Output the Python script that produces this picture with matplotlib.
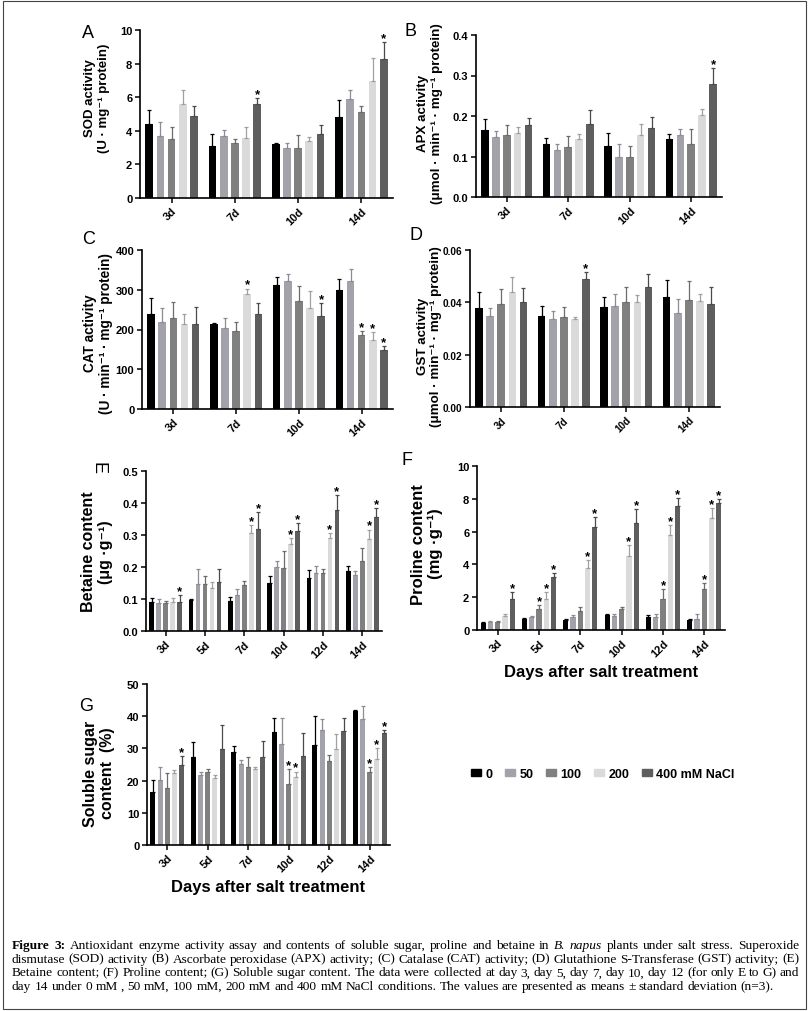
import numpy as np
import matplotlib
matplotlib.use('Agg')
import matplotlib.pyplot as plt
from matplotlib.patches import Patch, Rectangle

plt.rcParams['font.family'] = ['Liberation Sans', 'DejaVu Sans']

# concentrations and bar colours
nacl = ['0', '50', '100', '200', '400 mM NaCl']
colors = ['#000000', '#a2a2aa', '#808080', '#dadada', '#5e5e5e']
err_colors = ['#000000', '#8c8c94', '#6c6c6c', '#a0a0a0', '#4a4a4a']

days4 = ['3d', '7d', '10d', '14d']
days6 = ['3d', '5d', '7d', '10d', '12d', '14d']

# rows = days, columns = 0, 50, 100, 200, 400 mM NaCl
sod_mean = [[4.4, 3.7, 3.5, 5.6, 4.9],
            [3.1, 3.7, 3.3, 3.6, 5.6],
            [3.2, 3.0, 3.0, 3.4, 3.8],
            [4.8, 5.9, 5.1, 6.95, 8.3]]
sod_err = [[0.85, 0.85, 0.75, 0.8, 0.6],
           [0.7, 0.35, 0.2, 0.6, 0.35],
           [0.05, 0.3, 0.75, 0.25, 0.55],
           [1.05, 0.5, 0.35, 1.4, 1.0]]
sod_sig = [[], [4], [], [4]]

apx_mean = [[0.165, 0.149, 0.152, 0.158, 0.179],
            [0.132, 0.117, 0.124, 0.144, 0.181],
            [0.125, 0.099, 0.099, 0.152, 0.170],
            [0.143, 0.153, 0.130, 0.203, 0.279]]
apx_err = [[0.028, 0.014, 0.026, 0.015, 0.015],
           [0.013, 0.013, 0.026, 0.012, 0.035],
           [0.033, 0.031, 0.028, 0.028, 0.027],
           [0.013, 0.014, 0.039, 0.015, 0.040]]
apx_sig = [[], [], [], [4]]

cat_mean = [[240, 218, 230, 215, 213],
            [214, 205, 196, 290, 238],
            [311, 323, 272, 255, 234],
            [300, 323, 185, 173, 148]]
cat_err = [[38, 35, 40, 23, 43],
           [2, 24, 22, 13, 28],
           [22, 17, 38, 42, 33],
           [26, 29, 10, 20, 10]]
cat_sig = [[], [3], [4], [2, 3, 4]]

gst_mean = [[0.0380, 0.0347, 0.0393, 0.0438, 0.0403],
            [0.0349, 0.0335, 0.0343, 0.0338, 0.0490],
            [0.0383, 0.0385, 0.0403, 0.0400, 0.0458],
            [0.0420, 0.0360, 0.0410, 0.0407, 0.0395]]
gst_err = [[0.0060, 0.0030, 0.0057, 0.0060, 0.0053],
           [0.0036, 0.0030, 0.0038, 0.0006, 0.0025],
           [0.0038, 0.0047, 0.0056, 0.0027, 0.0052],
           [0.0065, 0.0053, 0.0073, 0.0024, 0.0062]]
gst_sig = [[], [4], [], []]

bet_mean = [[0.090, 0.088, 0.089, 0.090, 0.092],
            [0.097, 0.148, 0.148, 0.135, 0.153],
            [0.095, 0.114, 0.143, 0.305, 0.320],
            [0.150, 0.200, 0.198, 0.272, 0.314],
            [0.166, 0.180, 0.181, 0.292, 0.378],
            [0.188, 0.176, 0.220, 0.287, 0.355]]
bet_err = [[0.013, 0.012, 0.006, 0.013, 0.020],
           [0.004, 0.046, 0.025, 0.018, 0.041],
           [0.012, 0.018, 0.012, 0.027, 0.052],
           [0.023, 0.019, 0.052, 0.018, 0.022],
           [0.024, 0.022, 0.012, 0.015, 0.048],
           [0.016, 0.013, 0.038, 0.030, 0.028]]
bet_sig = [[4], [], [3, 4], [3, 4], [3, 4], [3, 4]]

pro_mean = [[0.45, 0.48, 0.48, 0.85, 1.88],
            [0.70, 0.78, 1.28, 1.92, 3.25],
            [0.63, 0.82, 1.15, 3.80, 6.30],
            [0.93, 0.87, 1.30, 4.52, 6.50],
            [0.80, 0.80, 1.90, 5.80, 7.55],
            [0.63, 0.70, 2.50, 6.80, 7.75]]
pro_err = [[0.05, 0.05, 0.05, 0.12, 0.42],
           [0.06, 0.05, 0.25, 0.40, 0.22],
           [0.03, 0.07, 0.25, 0.45, 0.58],
           [0.07, 0.10, 0.12, 0.65, 0.85],
           [0.10, 0.15, 0.58, 0.58, 0.48],
           [0.06, 0.28, 0.38, 0.62, 0.25]]
pro_sig = [[4], [2, 3, 4], [3, 4], [3, 4], [2, 3, 4], [2, 3, 4]]

sug_mean = [[16.5, 20.3, 17.7, 22.3, 25.0],
            [27.3, 21.7, 22.7, 20.8, 29.8],
            [28.8, 25.2, 24.3, 23.7, 27.2],
            [35.2, 31.3, 19.0, 21.0, 27.5],
            [31.0, 35.8, 26.0, 29.8, 35.3],
            [41.5, 39.1, 22.7, 26.8, 34.8]]
sug_err = [[3.7, 4.0, 4.7, 1.0, 2.5],
           [4.8, 1.0, 1.0, 0.8, 7.5],
           [1.8, 1.2, 3.1, 0.6, 5.2],
           [4.2, 8.0, 4.7, 1.8, 7.3],
           [9.0, 3.3, 1.8, 4.8, 4.2],
           [0.5, 4.2, 1.5, 3.2, 1.0]]
sug_sig = [[4], [], [], [2, 3], [], [2, 3, 4]]


def panel(rect, days, mean, err, sig, ymax, ystep, fmt, ylabel, fs, labx, laby, tfs=8):
    ax = fig.add_axes(rect)
    mean = np.array(mean)
    err = np.array(err)
    x = np.arange(len(days))
    pitch = 0.177
    w = 0.122
    for j in range(5):
        xs = x + (j - 2) * pitch
        ax.bar(xs, mean[:, j], w, color=colors[j], zorder=2)
        ax.errorbar(xs, mean[:, j], yerr=[np.zeros(len(days)), err[:, j]],
                    fmt='none', ecolor=err_colors[j], elinewidth=0.9,
                    capsize=1.6, capthick=0.9, zorder=3)
    for i, js in enumerate(sig):
        for j in js:
            ax.annotate('*', (x[i] + (j - 2) * pitch, mean[i, j] + err[i, j]),
                        xytext=(0, -1.5), textcoords='offset points',
                        ha='center', va='bottom', fontsize=9.5, fontweight='bold')
    ax.set_xlim(-0.5, len(days) - 0.5)
    ax.set_ylim(0, ymax)
    ticks = np.arange(0, ymax + ystep / 2, ystep)
    ax.set_yticks(ticks)
    ax.set_yticklabels([fmt % v for v in ticks])
    ax.set_xticks(x)
    ax.set_xticklabels(days, rotation=45, ha='right', rotation_mode='anchor')
    for s in ['top', 'right']:
        ax.spines[s].set_visible(False)
    for s in ['left', 'bottom']:
        ax.spines[s].set_linewidth(1.2)
    ax.tick_params(labelsize=tfs, width=1.1, length=3.5, pad=2)
    for lab in ax.get_xticklabels() + ax.get_yticklabels():
        lab.set_fontweight('bold')
    ax.set_ylabel(ylabel, fontsize=fs, fontweight='bold', linespacing=1.15)
    ax.yaxis.set_label_coords(labx, laby)
    return ax


W, H = 810, 1012
fig = plt.figure(figsize=(W / 100, H / 100), dpi=100)


def box(x0, y0, x1, y1):
    return [x0 / W, 1 - y1 / H, (x1 - x0) / W, (y1 - y0) / H]


axA = panel(box(140, 31, 393, 199), days4, sod_mean, sod_err, sod_sig, 10, 2, '%d',
            'SOD activity\n(U · mg⁻¹ protein)', 9.5, -0.12, 0.6)
axB = panel(box(476, 36, 722, 198), days4, apx_mean, apx_err, apx_sig, 0.4, 0.1, '%.1f',
            'APX activity\n(μmol · min⁻¹ · mg⁻¹ protein)', 9.6, -0.135, 0.52)
axC = panel(box(142, 251, 393, 410), days4, cat_mean, cat_err, cat_sig, 400, 100, '%d',
            'CAT activity\n(U · min⁻¹ · mg⁻¹ protein)', 9.8, -0.116, 0.48)
axD = panel(box(470, 251, 720, 408), days4, gst_mean, gst_err, gst_sig, 0.06, 0.02, '%.2f',
            'GST activity\n(μmol · min⁻¹ · mg⁻¹ protein)', 9.6, -0.112, 0.455, tfs=7.2)
axE = panel(box(146, 472, 382, 632), days6, bet_mean, bet_err, bet_sig, 0.5, 0.1, '%.1f',
            'Betaine content\n(μg ·g⁻¹)', 11.5, -0.14, 0.5)
axF = panel(box(477, 467, 725, 631), days6, pro_mean, pro_err, pro_sig, 10, 2, '%d',
            'Proline content\n(mg ·g⁻¹)', 12, -0.137, 0.53)
axG = panel(box(147, 685, 390, 846), days6, sug_mean, sug_err, sug_sig, 50, 10, '%d',
            'Soluble sugar\ncontent  (%)', 11.5, -0.132, 0.45)

axF.set_xlabel('Days after salt treatment', fontsize=12, fontweight='bold', labelpad=4)
axG.set_xlabel('Days after salt treatment', fontsize=12, fontweight='bold', labelpad=4)

# panel letters
for letter, px, py, rot in [('A', 88, 34, 0), ('B', 411, 31, 0), ('C', 89, 240, 0),
                            ('D', 416, 235, 0), ('E', 98, 468, -90), ('F', 407, 461, 0),
                            ('G', 86, 707, 0)]:
    fig.text(px / W, 1 - py / H, letter, fontsize=13, ha='center', va='center', rotation=rot)

# legend
handles = [Patch(color=c) for c in colors]
fig.legend(handles, nacl, loc='center', bbox_to_anchor=(603 / W, 1 - 775 / H), ncol=5,
           frameon=False, handlelength=0.8, handleheight=0.45, handletextpad=0.35,
           columnspacing=1.0, prop=dict(weight='bold', size=9))

# caption, justified over the full width except the last line
fig.patches.append(Rectangle((3 / W, 2 / H), 803 / W, 1 - 4 / H, transform=fig.transFigure,
                             fill=False, lw=0.8, edgecolor='#444444'))
cap_lines = [
    [('Figure 3:', 'normal', 'bold'),
     ('Antioxidant enzyme activity assay and contents of soluble sugar, proline and betaine in', 'normal', 'normal'),
     ('B. napus', 'italic', 'normal'),
     ('plants under salt stress. Superoxide', 'normal', 'normal')],
    [('dismutase (SOD) activity (B) Ascorbate peroxidase (APX) activity; (C) Catalase (CAT) activity; (D) Glutathione S-Transferase (GST) activity; (E)', 'normal', 'normal')],
    [('Betaine content; (F) Proline content; (G) Soluble sugar content. The data were collected at day 3, day 5, day 7, day 10, day 12 (for only E to G) and', 'normal', 'normal')],
    [('day 14 under 0 mM , 50 mM, 100 mM, 200 mM and 400 mM NaCl conditions. The values are presented as means ± standard deviation (n=3).', 'normal', 'normal')],
]
cap_fs = 9.6
x_left, x_right = 12, 799
renderer = fig.canvas.get_renderer()
for k, segs in enumerate(cap_lines):
    ypos = 946 + k * 13.7
    texts = []
    for txt, style, weight in segs:
        for wd in txt.split():
            t = fig.text(0, 1 - ypos / H, wd, fontsize=cap_fs, family='Liberation Serif',
                         style=style, fontweight=weight, ha='left', va='center')
            texts.append(t)
    widths = [t.get_window_extent(renderer).width for t in texts]
    if k < len(cap_lines) - 1:
        gap = (x_right - x_left - sum(widths)) / (len(texts) - 1)
    else:
        gap = cap_fs * 100 / 72 * 0.25
    xpos = x_left
    for t, wdt in zip(texts, widths):
        t.set_x(xpos / W)
        xpos += wdt + gap

fig.savefig('out.png', dpi=100)
